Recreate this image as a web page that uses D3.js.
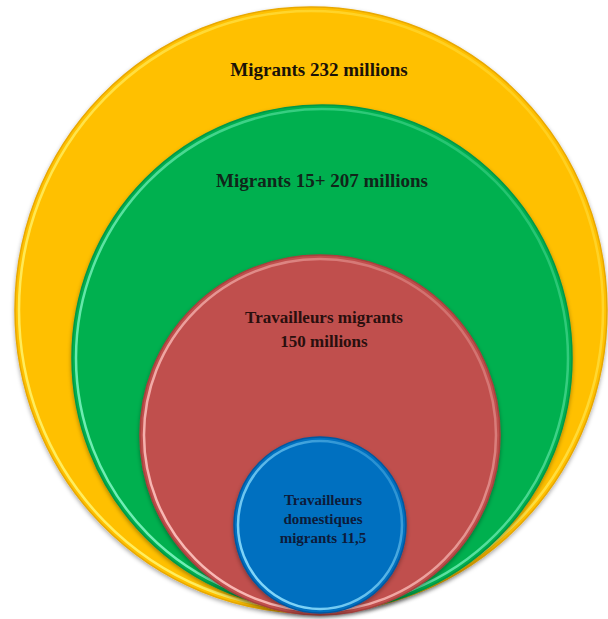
<!DOCTYPE html>
<html>
<head>
<meta charset="utf-8">
<script src="https://cdn.jsdelivr.net/npm/d3@7"></script>
<style>
  body { margin: 0; background: #fff; }
  svg { display: block; }
</style>
</head>
<body>
<svg width="608" height="619"></svg>
<script>
'use strict';
(() => {

// nested groups, outermost first
var categories = ['migrants', 'migrants15', 'travailleurs', 'domestiques'];
var values = [232, 207, 150, 11.5];
var labels = [
  ['Migrants 232 millions'],
  ['Migrants 15+ 207 millions'],
  ['Travailleurs migrants', '150 millions'],
  ['Travailleurs', 'domestiques', 'migrants 11,5']
];

var svg = d3.select('svg');

// layout (not data): the circles are drawn by hand in the source, not to scale
var cx = d3.scaleOrdinal().domain(categories).range([311, 322, 320, 320]);
var cy = d3.scaleOrdinal().domain(categories).range([310, 358, 435, 525]);
var rx = d3.scaleOrdinal().domain(categories).range([296, 250, 180, 86]);
var ry = d3.scaleOrdinal().domain(categories).range([303, 253, 180, 88]);
var fill = d3.scaleOrdinal().domain(categories).range(['#FFC000', '#00B050', '#C0504D', '#0070C0']);
var glow = d3.scaleOrdinal().domain(categories).range(['#FFF36A', '#7DF5C0', '#FFC4C0', '#8FE0FF']);
var rim = d3.scaleOrdinal().domain(categories).range(['#E8A800', '#00984A', '#A8403D', '#0058A0']);
var fontSize = d3.scaleOrdinal().domain(categories).range([19, 19, 17, 15]);
var lineH = d3.scaleOrdinal().domain(categories).range([24, 24, 24, 19]);
var textY = d3.scaleOrdinal().domain(categories).range([76, 187, 323, 505]);
var textX = d3.scaleOrdinal().domain(categories).range([319, 322, 324, 323]);
var textColor = d3.scaleOrdinal().domain(categories).range(['#1a1208', '#10261a', '#2a0f0e', '#0d1b3a']);

var defs = svg.append('defs');
var f = defs.append('filter').attr('id', 'shadow')
  .attr('x', '-10%').attr('y', '-10%').attr('width', '120%').attr('height', '120%');
f.append('feDropShadow').attr('dx', 0).attr('dy', 2).attr('stdDeviation', 2)
  .attr('flood-color', '#000').attr('flood-opacity', 0.35);

categories.forEach(c => {
  var g = defs.append('linearGradient').attr('id', 'hl-' + c)
    .attr('x1', '0%').attr('y1', '100%').attr('x2', '100%').attr('y2', '0%');
  g.append('stop').attr('offset', '0%').attr('stop-color', glow(c)).attr('stop-opacity', 1);
  g.append('stop').attr('offset', '45%').attr('stop-color', glow(c)).attr('stop-opacity', 0.7);
  g.append('stop').attr('offset', '100%').attr('stop-color', glow(c)).attr('stop-opacity', 0.15);
});

var data = categories.map((c, i) => ({ key: c, value: values[i], label: labels[i] }));

var node = svg.selectAll('g.bubble').data(data).enter().append('g')
  .attr('class', 'bubble');

node.append('ellipse')
  .attr('cx', d => cx(d.key)).attr('cy', d => cy(d.key))
  .attr('rx', d => rx(d.key)).attr('ry', d => ry(d.key))
  .attr('fill', d => fill(d.key))
  .attr('stroke', d => rim(d.key))
  .attr('stroke-width', 1.5)
  .attr('filter', 'url(#shadow)');

// bevel highlight just inside the edge
node.append('ellipse')
  .attr('cx', d => cx(d.key)).attr('cy', d => cy(d.key))
  .attr('rx', d => rx(d.key) - 4).attr('ry', d => ry(d.key) - 4)
  .attr('fill', 'none')
  .attr('stroke', d => 'url(#hl-' + d.key + ')')
  .attr('stroke-width', 2.5);

node.append('text')
  .attr('text-anchor', 'middle')
  .attr('font-family', '"Liberation Serif", "Times New Roman", serif')
  .attr('font-weight', 'bold')
  .attr('font-size', d => fontSize(d.key))
  .attr('fill', d => textColor(d.key))
  .each(function (d) {
    d3.select(this).selectAll('tspan').data(d.label).enter().append('tspan')
      .attr('x', textX(d.key))
      .attr('y', (t, i) => textY(d.key) + i * lineH(d.key))
      .text(t => t);
  });

})();
</script>
</body>
</html>
